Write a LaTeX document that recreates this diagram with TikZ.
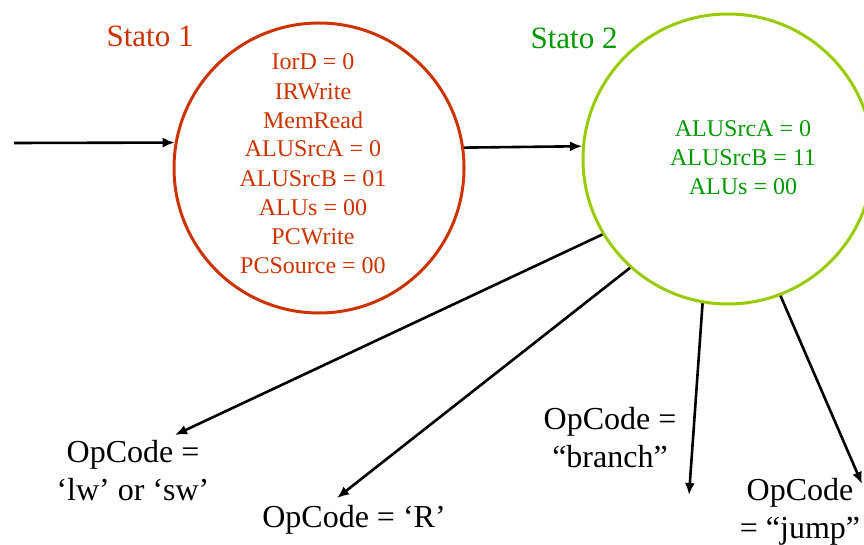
\documentclass[tikz,border=0pt]{standalone}
\usepackage{fontspec}
\setmainfont{Liberation Serif}
\usetikzlibrary{arrows.meta}
\definecolor{rossoStato}{HTML}{CC3300}
\definecolor{verdeBordo}{HTML}{99CC00}
\definecolor{verdeTesto}{HTML}{009900}
\tikzset{
  statecircle/.style={circle, draw, line width=3pt, minimum size=290pt, inner sep=0pt},
  outputs/.style={align=center, inner sep=0pt, font=\fontsize{24}{29}\selectfont},
  statename/.style={anchor=base, inner sep=0pt, font=\fontsize{31}{37}\selectfont},
  oplabel/.style={align=center, inner sep=0pt, font=\fontsize{32}{38}\selectfont},
  trans/.style={line width=2.6pt, -{Latex[length=12pt,width=10pt]}}
}
\begin{document}
\begin{tikzpicture}[x=1pt, y=-1pt]
  \useasboundingbox (0,0) rectangle (864,545);

  % the two states
  \node[statecircle, draw=rossoStato] (s1) at (319,168) {};
  \node[statecircle, draw=verdeBordo] (s2) at (728,159) {};

  % state names
  \node[statename, text=rossoStato] (n1) at (150,47) {Stato 1};
  \node[statename, text=verdeTesto] (n2) at (574,49) {Stato 2};

  % control signals asserted in each state (base = last line)
  \node[outputs, text=rossoStato, anchor=base] (o1) at (313,273)
    {IorD = 0\\IRWrite\\MemRead\\ALUSrcA = 0\\ALUSrcB = 01\\ALUs = 00\\PCWrite\\PCSource = 00};
  \node[outputs, text=verdeTesto, anchor=base] (o2) at (743,195)
    {ALUSrcA = 0\\ALUSrcB = 11\\ALUs = 00};

  % opcode branches
  \node[oplabel, anchor=base] (lw) at (133,500) {OpCode =\\‘lw’ or ‘sw’};
  \node[oplabel, anchor=base] (rt) at (354,527) {OpCode = ‘R’};
  \node[oplabel, anchor=base] (br) at (610,467) {OpCode =\\“branch”};
  \node[oplabel, anchor=base] (jp) at (800,538) {OpCode\\= “jump”};

  % arrow ends
  \coordinate (in) at (14,143);
  \coordinate (tlw) at (175,435);
  \coordinate (trt) at (337,498);
  \coordinate (tbr) at (689,495);
  \coordinate (tjp) at (862,484);

  % transitions
  \draw[trans] (in) -- (s1.170);
  \draw[trans] (s1.8) -- (s2.175);
  \draw[trans] (s2.211) -- (tlw);
  \draw[trans] (s2.228) -- (trt);
  \draw[trans] (s2.260.6) -- (tbr);
  \draw[trans] (s2.291.6) -- (tjp);
\end{tikzpicture}
\end{document}
